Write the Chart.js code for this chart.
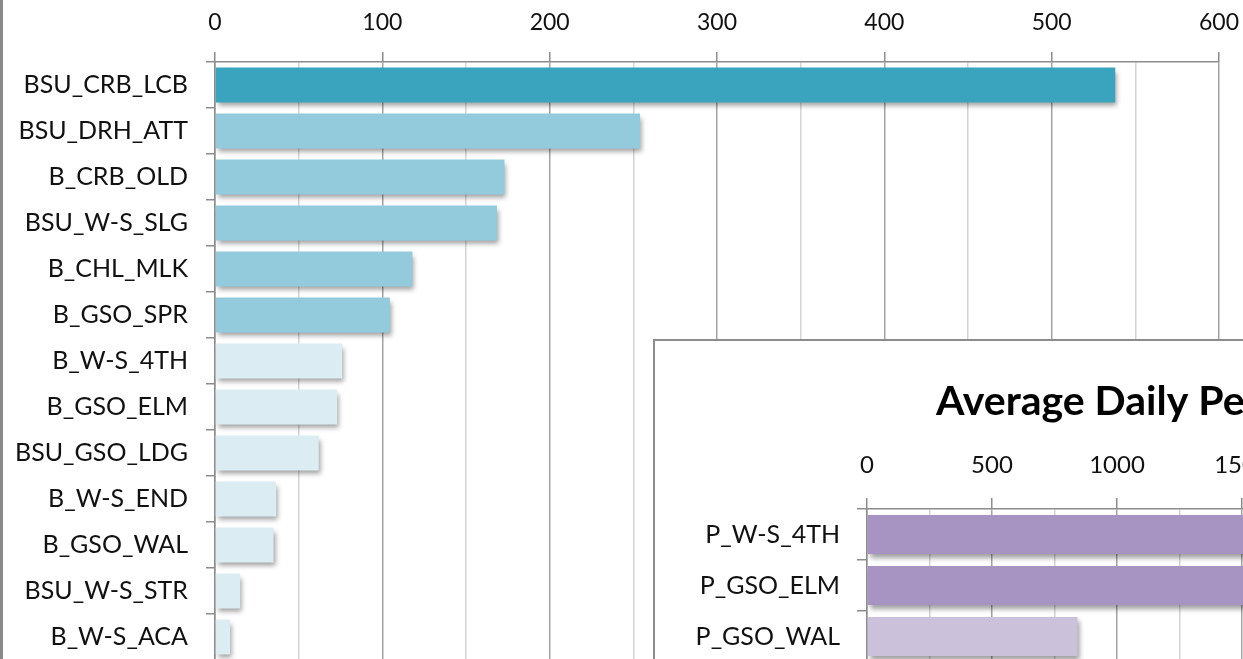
<!DOCTYPE html>
<html>
<head>
<meta charset="utf-8">
<script src="https://cdn.jsdelivr.net/npm/chart.js@4.4.1/dist/chart.umd.min.js"></script>
<style>
  html, body { margin: 0; padding: 0; background: #fff; overflow: hidden; width: 1243px; height: 659px; }
  #mainWrap { position: absolute; left: 0; top: 0; }
  #frame { position: absolute; left: 0; top: 0; width: 3px; height: 659px; background: #8a8a8a; }
  #insetWrap { position: absolute; left: 653px; top: 339px; background: #fff;
               border-left: 2px solid #8c8c8c; border-top: 2px solid #8c8c8c; }
  canvas { display: block; }
</style>
</head>
<body>
<div id="mainWrap"><canvas id="mainChart" width="1243" height="700"></canvas></div>
<div id="frame"></div>
<div id="insetWrap"><canvas id="insetChart" width="1300" height="420"></canvas></div>
<script>
// Average daily bicycle counts by station
const bikeStations = ['BSU_CRB_LCB', 'BSU_DRH_ATT', 'B_CRB_OLD', 'BSU_W-S_SLG', 'B_CHL_MLK', 'B_GSO_SPR',
  'B_W-S_4TH', 'B_GSO_ELM', 'BSU_GSO_LDG', 'B_W-S_END', 'B_GSO_WAL', 'BSU_W-S_STR', 'B_W-S_ACA'];
const bikeCounts = [538, 254, 173, 168.5, 118, 104.5, 76, 73, 62, 36.5, 35, 15, 9];
const bikeTickLabels = ['0', '100', '200', '300', '400', '500', '600'];

// Average daily pedestrian counts by station
const pedStations = ['P_W-S_4TH', 'P_GSO_ELM', 'P_GSO_WAL'];
const pedCounts = [2150, 2080, 842];
const pedTickLabels = ['0', '500', '1000', '1500', '2000', '2500', '3000', '3500'];
const pedTitle = 'Average Daily Pedestrian Volume';

const FONT = 'Lato, "Open Sans", sans-serif';

// soft drop shadow under the bars
const barShadow = {
  id: 'barShadow',
  beforeDatasetsDraw(chart) {
    const c = chart.ctx;
    c.save();
    c.shadowColor = 'rgba(0,0,0,0.38)';
    c.shadowBlur = 5;
    c.shadowOffsetX = 2;
    c.shadowOffsetY = 4;
  },
  afterDatasetsDraw(chart) { chart.ctx.restore(); }
};

function tickText(list, step) {
  return function (value) {
    const i = Math.round(value / step);
    return (value % step === 0 && list[i] !== undefined) ? list[i] : '';
  };
}

// value axis on top: fixed height, and its end labels may overhang the plot edges
function topAxisFit(h) {
  return s => { s.height = h; s.paddingLeft = 0; s.paddingRight = 0; };
}

// ---------- bicycle chart ----------
new Chart(document.getElementById('mainChart'), {
  type: 'bar',
  data: {
    labels: bikeStations,
    datasets: [{
      data: bikeCounts,
      backgroundColor: ctx => {
        const v = ctx.raw;
        return v >= 500 ? '#3aa3bd' : v >= 100 ? '#93cbdc' : '#dbedf3';
      },
      borderWidth: 0,
      categoryPercentage: 1,
      barPercentage: 0.76
    }]
  },
  options: {
    indexAxis: 'y',
    responsive: false,
    animation: false,
    layout: { padding: { left: 8, top: 0, right: 24, bottom: 40 } },
    plugins: { legend: { display: false }, tooltip: { enabled: false } },
    scales: {
      x: {
        position: 'top',
        min: 0, max: 600,
        afterFit: topAxisFit(62),
        ticks: {
          stepSize: 50, autoSkip: false, maxRotation: 0,
          padding: 16, color: '#111',
          font: { family: FONT, size: 23 },
          callback: tickText(bikeTickLabels, 100)
        },
        grid: {
          color: c => (c.tick && c.tick.value % 100 === 0) ? '#a3a3a3' : '#d4d4d4',
          tickColor: c => (c.tick && c.tick.value % 100 === 0) ? '#8c8c8c' : 'rgba(0,0,0,0)',
          lineWidth: 1.5,
          tickLength: 10
        },
        border: { display: true, color: '#8c8c8c', width: 1.5 }
      },
      y: {
        afterFit: s => { s.width = 207; },
        ticks: { padding: 18, color: '#111', font: { family: FONT, size: 25 }, autoSkip: false },
        grid: { drawOnChartArea: false, tickLength: 9, color: '#8c8c8c', lineWidth: 1.5, offset: true },
        border: { display: true, color: '#8c8c8c', width: 1.5 }
      }
    }
  },
  plugins: [barShadow]
});

// ---------- pedestrian chart ----------
const TITLE_SIZE = 41;
const PED_MAX = 3750;
const measureCtx = document.createElement('canvas').getContext('2d');
measureCtx.font = 'bold ' + TITLE_SIZE + 'px ' + FONT;
const titleWidth = measureCtx.measureText(pedTitle).width;
// plot spans x = 212 .. 212 + PED_MAX/4 in this canvas (500 units per 125 px)
const areaRight = 212 + PED_MAX / 4;
// left padding that places the centred title so it starts at x = 281
const padLeft = Math.min(45, Math.max(0, 562 + titleWidth - areaRight));
const titleBlock = 36 + TITLE_SIZE * 1.2 + 10;

new Chart(document.getElementById('insetChart'), {
  type: 'bar',
  data: {
    labels: pedStations,
    datasets: [{
      data: pedCounts,
      backgroundColor: ctx => ctx.raw >= 1000 ? '#a794c2' : '#cbc1db',
      borderWidth: 0,
      categoryPercentage: 1,
      barPercentage: 0.76
    }]
  },
  options: {
    indexAxis: 'y',
    responsive: false,
    animation: false,
    layout: { padding: { left: padLeft, top: 0, right: 1300 - areaRight, bottom: 99 } },
    plugins: {
      legend: { display: false },
      tooltip: { enabled: false },
      title: {
        display: true, text: pedTitle, color: '#000',
        font: { family: FONT, size: TITLE_SIZE, weight: 'bold' },
        padding: { top: 36, bottom: 10 }
      }
    },
    scales: {
      x: {
        position: 'top',
        min: 0, max: PED_MAX,
        afterFit: topAxisFit(168 - titleBlock),
        ticks: {
          stepSize: 250, autoSkip: false, maxRotation: 0,
          padding: 18, color: '#111',
          font: { family: FONT, size: 24 },
          callback: tickText(pedTickLabels, 500)
        },
        grid: {
          color: c => (c.tick && c.tick.value % 500 === 0) ? '#a3a3a3' : '#d4d4d4',
          tickColor: c => (c.tick && c.tick.value % 500 === 0) ? '#8c8c8c' : 'rgba(0,0,0,0)',
          lineWidth: 1.5,
          tickLength: 11
        },
        border: { display: true, color: '#8c8c8c', width: 1.5 }
      },
      y: {
        afterFit: s => { s.width = 212 - padLeft; },
        ticks: { padding: 17, color: '#111', font: { family: FONT, size: 25 }, autoSkip: false },
        grid: { drawOnChartArea: false, tickLength: 10, color: '#8c8c8c', lineWidth: 1.5, offset: true },
        border: { display: true, color: '#8c8c8c', width: 1.5 }
      }
    }
  },
  plugins: [barShadow]
});
</script>
</body>
</html>
